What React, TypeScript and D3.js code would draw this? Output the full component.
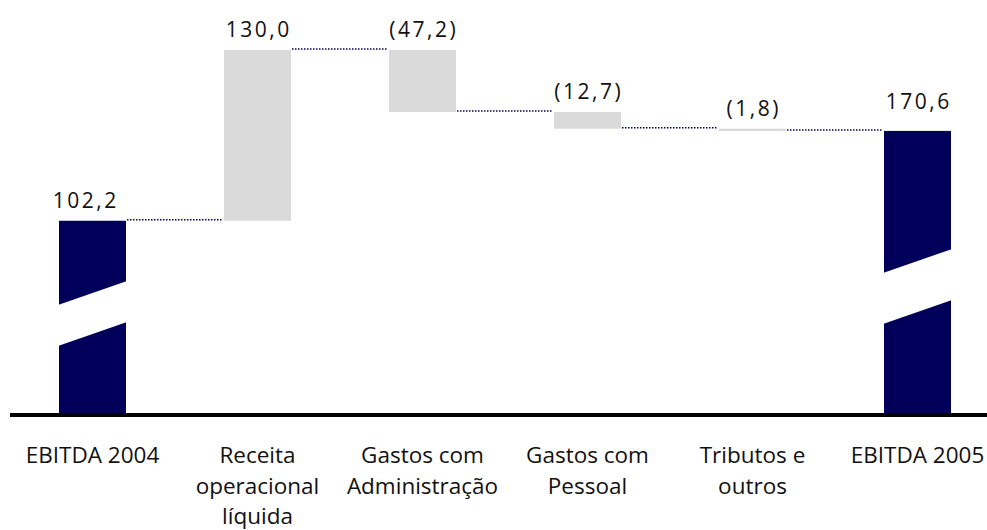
import React, { useEffect, useRef } from "react";
import * as d3 from "d3";

// data
const categories = ["EBITDA 2004", "Receita operacional líquida", "Gastos com Administração", "Gastos com Pessoal", "Tributos e outros", "EBITDA 2005"];
const categoryLines = [["EBITDA 2004"], ["Receita", "operacional", "líquida"], ["Gastos com", "Administração"], ["Gastos com", "Pessoal"], ["Tributos e", "outros"], ["EBITDA 2005"]];
const values = [102.2, 130.0, -47.2, -12.7, -1.8, 170.6];
const kinds = ["total", "delta", "delta", "delta", "delta", "total"];

// pixel offsets of the white axis break, measured up from the baseline
const breaks = [{ lower: 67, upper: 108 }, null, null, null, null, { lower: 89, upper: 140 }];

const W = 987;
const H = 530;
const BASE_Y = 413;
const NAVY = "#00005a";
const GREY = "#dadada";
const FONT = "'Open Sans', sans-serif";
const VAL_SPACING = 2.5;

const locale = d3.formatLocale({ decimal: ",", thousands: ".", grouping: [3], currency: ["", ""] });
const fmt = locale.format(".1f");
const label = (v: number) => (v < 0 ? `(${fmt(-v)})` : fmt(v));

const App = () => {
  const ref = useRef<SVGSVGElement>(null);

  useEffect(() => {
    const svg = d3.select(ref.current);
    svg.selectAll("*").remove();

    // running totals
    let run = 0;
    const bars = values.map((v, i) => {
      if (kinds[i] === "total") {
        run = v;
        return { i, v, y0: 0, y1: v, kind: "total" };
      }
      const start = run;
      run = run + v;
      return { i, v, y0: start, y1: run, kind: "delta" };
    });

    const top = d3.max(bars, (b) => Math.max(b.y0, b.y1)) as number;

    const x = d3.scaleBand<string>()
      .domain(categories)
      .range([10, 1000])
      .paddingInner(0.594)
      .paddingOuter(0.297);

    const y = d3.scaleLinear().domain([0, top]).range([355, 50]);
    const bw = x.bandwidth();

    // bars
    bars.forEach((b) => {
      const x0 = x(categories[b.i]) as number;
      if (b.kind === "total") {
        svg.append("rect")
          .attr("x", x0)
          .attr("y", y(b.y1))
          .attr("width", bw)
          .attr("height", BASE_Y - y(b.y1))
          .attr("fill", NAVY);
        const br = breaks[b.i];
        if (br) {
          const drop = 24;
          const pts: [number, number][] = [
            [x0 - 1, BASE_Y - br.upper],
            [x0 + bw + 1, BASE_Y - br.upper - drop],
            [x0 + bw + 1, BASE_Y - br.lower - drop],
            [x0 - 1, BASE_Y - br.lower],
          ];
          svg.append("polygon")
            .attr("points", pts.map((p) => p.join(",")).join(" "))
            .attr("fill", "#fff");
        }
      } else {
        const hi = Math.max(b.y0, b.y1);
        const lo = Math.min(b.y0, b.y1);
        svg.append("rect")
          .attr("x", x0)
          .attr("y", y(hi))
          .attr("width", bw)
          .attr("height", Math.max(1, y(lo) - y(hi)))
          .attr("fill", GREY);
      }
    });

    // dotted connectors
    bars.slice(0, -1).forEach((b, i) => {
      const xa = (x(categories[i]) as number) + bw;
      const xb = x(categories[i + 1]) as number;
      svg.append("line")
        .attr("x1", xa + 1)
        .attr("x2", xb - 1)
        .attr("y1", y(b.y1) - 1)
        .attr("y2", y(b.y1) - 1)
        .attr("stroke", NAVY)
        .attr("stroke-width", 1.5)
        .attr("stroke-dasharray", "1.5,1.5");
    });

    // axis line
    svg.append("line")
      .attr("x1", 10)
      .attr("x2", W)
      .attr("y1", BASE_Y + 2)
      .attr("y2", BASE_Y + 2)
      .attr("stroke", "#000")
      .attr("stroke-width", 4);

    // value labels
    bars.forEach((b, i) => {
      const cx = (x(categories[i]) as number) + bw / 2;
      const hi = Math.max(b.y0, b.y1);
      const lift = i === bars.length - 1 ? 22 : 13;
      const nudge = i === 0 ? -8 : 0; // first label sits a bit left in the original
      svg.append("text")
        .attr("x", cx + nudge + VAL_SPACING / 2)
        .attr("y", y(hi) - lift)
        .attr("text-anchor", "middle")
        .attr("font-family", FONT)
        .attr("font-size", 21)
        .attr("letter-spacing", VAL_SPACING)
        .attr("fill", "#111")
        .text(label(b.v));
    });

    // category labels
    categoryLines.forEach((lines, i) => {
      const cx = (x(categories[i]) as number) + bw / 2;
      const t = svg.append("text")
        .attr("text-anchor", "middle")
        .attr("font-family", FONT)
        .attr("font-size", 22.5)
        .attr("fill", "#111");
      lines.forEach((l, j) => {
        t.append("tspan")
          .attr("x", cx)
          .attr("y", 463 + j * 30.5)
          .text(l);
      });
    });
  }, []);

  return (
    <svg
      ref={ref}
      width={W}
      height={H}
      style={{ position: "absolute", left: 0, top: 0, background: "#fff" }}
    />
  );
};

export default App;
